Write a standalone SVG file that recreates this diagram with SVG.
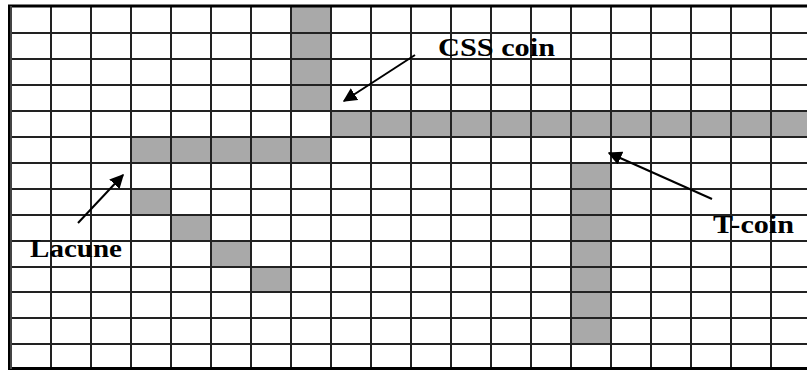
<svg xmlns="http://www.w3.org/2000/svg" width="807" height="372" viewBox="0 0 807 372">
  <style>
    .cell { fill: #a9a9a9; }
    .grid { stroke: #222; stroke-width: 2; fill: none; }
    .border { stroke: #000; stroke-width: 3; fill: none; }
    .label { font-family: "Liberation Serif", "Times New Roman", serif; font-weight: bold; font-size: 26px; fill: #000; }
    .arrow { stroke: #000; stroke-width: 2; fill: none; marker-end: url(#head); }
  </style>
  <defs>
    <marker id="head" viewBox="0 0 10 10" refX="9" refY="5" markerWidth="7" markerHeight="7" markerUnits="strokeWidth" orient="auto">
      <path d="M0,0 L10,5 L0,10 Z" fill="#000"/>
    </marker>
  </defs>

  <rect x="0" y="0" width="807" height="372" fill="#fff"/>

  <!-- shaded cells -->
  <g id="css-coin-column">
    <rect class="cell" x="291" y="6" width="40" height="105"/>
  </g>
  <g id="css-coin-row">
    <rect class="cell" x="331" y="111" width="476" height="26"/>
  </g>
  <g id="lacune-row">
    <rect class="cell" x="131" y="137" width="200" height="26"/>
  </g>
  <g id="diagonal">
    <rect class="cell" x="131" y="189" width="40" height="26"/>
    <rect class="cell" x="171" y="215" width="40" height="26"/>
    <rect class="cell" x="211" y="241" width="40" height="26"/>
    <rect class="cell" x="251" y="267" width="40" height="25"/>
  </g>
  <g id="t-coin-column">
    <rect class="cell" x="571" y="163" width="40" height="181"/>
  </g>

  <!-- grid -->
  <g id="grid">
    <path class="grid" d="M51,6V369 M91,6V369 M131,6V369 M171,6V369 M211,6V369 M251,6V369 M291,6V369 M331,6V369 M371,6V369 M411,6V369 M451,6V369 M491,6V369 M531,6V369 M571,6V369 M611,6V369 M651,6V369 M691,6V369 M731,6V369 M771,6V369"/>
    <path class="grid" d="M9,33H807 M9,59H807 M9,85H807 M9,111H807 M9,137H807 M9,163H807 M9,189H807 M9,215H807 M9,241H807 M9,267H807 M9,292H807 M9,318H807 M9,344H807"/>
    <path class="border" d="M807,6H9.5V368.5H807"/>
    <path d="M11,6V369" stroke="#444" stroke-width="2"/>
  </g>

  <!-- labels -->
  <g id="css-coin-label">
    <text class="label" x="438" y="55.5" textLength="117" lengthAdjust="spacingAndGlyphs">CSS coin</text>
  </g>
  <g id="lacune-label">
    <text class="label" x="30" y="257" textLength="92" lengthAdjust="spacingAndGlyphs">Lacune</text>
  </g>
  <g id="t-coin-label">
    <text class="label" x="713" y="233" textLength="81" lengthAdjust="spacingAndGlyphs">T-coin</text>
  </g>

  <!-- pointers -->
  <g id="connectors">
    <path class="arrow" d="M415,55 L344,101"/>
    <path class="arrow" d="M78,223 L123,175"/>
    <path class="arrow" d="M712,199 L609,153"/>
  </g>
</svg>
